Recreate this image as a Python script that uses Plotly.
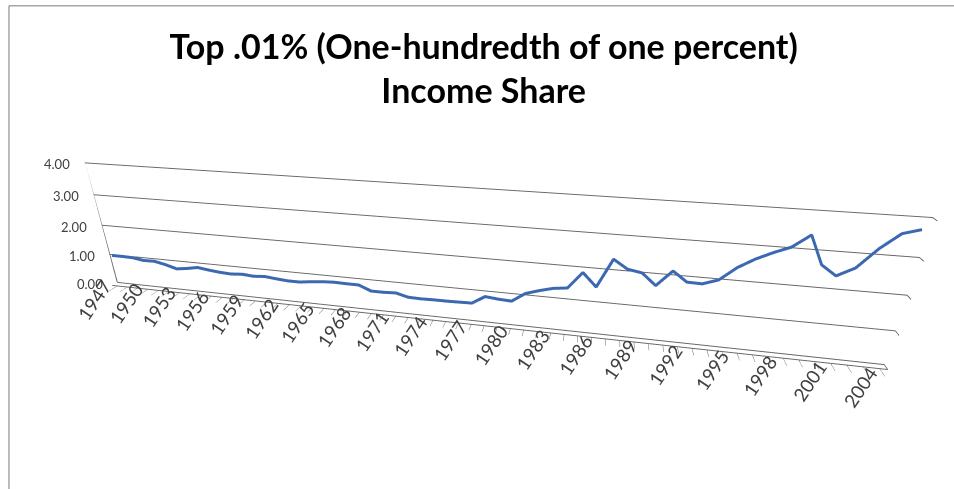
import plotly.graph_objects as go

# Top 0.01% income share (%), 1947-2006
years = list(range(1947, 2007))
share = [
    1.03, 1.03, 1.02, 0.96, 0.97, 0.89, 0.78, 0.83, 0.90, 0.85,
    0.81, 0.79, 0.82, 0.79, 0.82, 0.78, 0.75, 0.75, 0.80, 0.84,
    0.86, 0.85, 0.85, 0.69, 0.69, 0.71, 0.61, 0.60, 0.61, 0.61,
    0.62, 0.63, 0.88, 0.84, 0.82, 1.10, 1.23, 1.34, 1.39, 1.89,
    1.50, 2.35, 2.10, 2.03, 1.70, 2.16, 1.88, 1.87, 2.02, 2.40,
    2.67, 2.88, 3.06, 3.41, 2.66, 2.40, 2.65, 3.19, 3.60, 3.73,
]
labelled_years = list(range(1947, 2005, 3))
value_ticks = [0, 1, 2, 3, 4]

title_text = "Top .01% (One-hundredth of one percent)<br>Income Share"

axis_grey = "#666666"
label_grey = "#404040"

# category axis spans half a year beyond the first and last points
x_lo, x_hi = years[0] - 0.5, years[-1] + 0.5
z_lo, z_hi = value_ticks[0], value_ticks[-1]
depth_back = 1

fig = go.Figure()

fig.add_trace(
    go.Scatter3d(
        x=years,
        y=[0] * len(years),
        z=share,
        mode="lines",
        line=dict(color="#3C68B1", width=6),
        hoverinfo="skip",
    )
)

# value axis line on the left wall edge
fig.add_trace(
    go.Scatter3d(
        x=[x_lo, x_lo], y=[depth_back, depth_back], z=[z_lo, z_hi],
        mode="lines",
        line=dict(color=axis_grey, width=2),
        hoverinfo="skip",
    )
)

common = dict(
    title=dict(text=""),
    showspikes=False,
    zeroline=False,
    showbackground=False,
)

# value labels sit just left of the first category on each gridline
value_labels = [
    dict(
        x=years[0], y=0, z=v,
        text=f"{v:.2f}",
        showarrow=False,
        xanchor="right",
        yanchor="middle",
        xshift=-15,
        font=dict(family="Lato", size=13, color=label_grey),
    )
    for v in value_ticks
]

fig.update_layout(
    width=954,
    height=489,
    margin=dict(l=0, r=0, t=0, b=0),
    paper_bgcolor="white",
    showlegend=False,
    title=dict(
        text=title_text,
        x=0.507,
        xanchor="center",
        y=0.88,
        yanchor="top",
        yref="container",
        font=dict(family="Lato", size=34, color="black", weight="bold"),
    ),
    scene=dict(
        domain=dict(x=[0, 1], y=[0, 1]),
        aspectmode="manual",
        aspectratio=dict(x=1.5655, y=0.015, z=0.278),
        camera=dict(
            eye=dict(x=0.2548, y=-0.9925, z=0.472),
            center=dict(x=0.0688, y=-0.0945, z=0.073),
            up=dict(x=0, y=0, z=1),
            projection=dict(type="perspective"),
        ),
        annotations=value_labels,
        xaxis=dict(
            common,
            range=[x_lo, x_hi],
            tickmode="array",
            tickvals=years,
            ticktext=[str(y) if y in labelled_years else "" for y in years],
            tickangle=-56,
            tickfont=dict(family="Lato", size=15, color=label_grey),
            ticks="outside",
            ticklen=8,
            tickcolor=axis_grey,
            showgrid=False,
            showline=True,
            linecolor=axis_grey,
            linewidth=2,
        ),
        yaxis=dict(
            common,
            range=[-1, 1],
            showticklabels=False,
            ticks="",
            showgrid=False,
            showline=False,
        ),
        zaxis=dict(
            common,
            range=[z_lo, z_hi],
            tickmode="array",
            tickvals=value_ticks,
            showticklabels=False,
            ticks="",
            showgrid=True,
            gridcolor=axis_grey,
            gridwidth=2,
            showline=False,
        ),
    ),
    shapes=[
        dict(type="line", xref="paper", yref="paper", x0=0.0094, x1=0.0094,
             y0=0, y1=0.988, line=dict(color="#a6a6a6", width=1.5)),
        dict(type="line", xref="paper", yref="paper", x0=0.0094, x1=1,
             y0=0.988, y1=0.988, line=dict(color="#a6a6a6", width=1.5)),
    ],
)

fig.write_html("out.html", config={"displayModeBar": False})
